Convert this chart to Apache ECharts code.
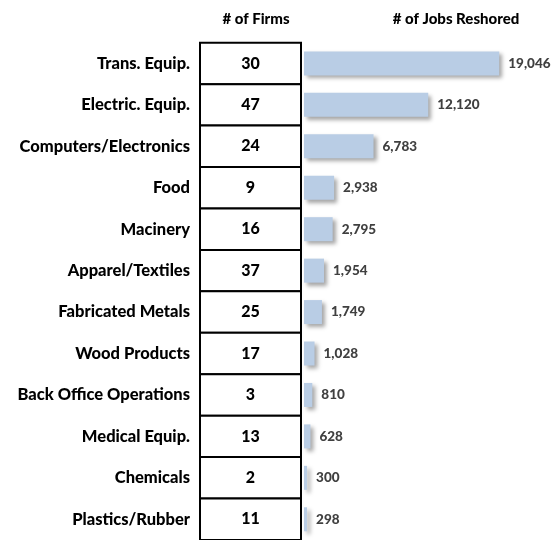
<!DOCTYPE html>
<html>
<head>
<meta charset="utf-8">
<script src="https://cdn.jsdelivr.net/npm/echarts@6/dist/echarts.min.js"></script>
<style>
  html, body { margin: 0; padding: 0; background: #fff; }
  #chart { width: 556px; height: 540px; }
</style>
</head>
<body>
<div id="chart"></div>
<script>
// Reshoring by industry: firm counts and jobs brought back
const industries = [
  'Trans. Equip.', 'Electric. Equip.', 'Computers/Electronics', 'Food',
  'Macinery', 'Apparel/Textiles', 'Fabricated Metals', 'Wood Products',
  'Back Office Operations', 'Medical Equip.', 'Chemicals', 'Plastics/Rubber'
];
const firms = [30, 47, 24, 9, 16, 37, 25, 17, 3, 13, 2, 11];
const jobs = [19046, 12120, 6783, 2938, 2795, 1954, 1749, 1028, 810, 628, 300, 298];

const FONT = 'Lato, "Open Sans", sans-serif';
const TOP = 42.7, HEIGHT = 498;

const chart = echarts.init(document.getElementById('chart'), null, { renderer: 'canvas' });

chart.setOption({
  animation: false,
  backgroundColor: '#ffffff',
  title: [
    { text: '# of Firms', left: 251, top: 7, textAlign: 'center',
      textStyle: { fontFamily: FONT, fontWeight: 900, fontSize: 15, color: '#000' } },
    { text: '# of Jobs Reshored', left: 451, top: 7, textAlign: 'center',
      textStyle: { fontFamily: FONT, fontWeight: 900, fontSize: 15, color: '#000' } }
  ],
  grid: [
    { left: 200, top: TOP, width: 101, height: HEIGHT },
    { left: 304, top: TOP, width: 246, height: HEIGHT }
  ],
  xAxis: [
    { gridIndex: 0, type: 'value', min: 0, max: 1, show: false },
    { gridIndex: 1, type: 'value', min: 0, max: 24000, show: false }
  ],
  yAxis: [
    { gridIndex: 0, type: 'category', data: industries, inverse: true,
      axisLine: { show: false }, axisTick: { show: false }, splitLine: { show: false },
      axisLabel: { margin: 10, fontFamily: FONT, fontWeight: 900, fontSize: 16.5, color: '#000' } },
    { gridIndex: 1, type: 'category', data: industries, inverse: true, show: false }
  ],
  series: [
    {
      // table column: one bordered cell per industry holding the firm count
      type: 'custom',
      xAxisIndex: 0, yAxisIndex: 0,
      data: industries.map((name, i) => [name, firms[i]]),
      encode: { y: 0 },
      renderItem: function (params, api) {
        const idx = api.value(0);
        const left = api.coord([0, idx]);
        const right = api.coord([1, idx]);
        const h = api.size([0, 1])[1];
        return {
          type: 'group',
          children: [
            { type: 'rect',
              shape: { x: left[0], y: left[1] - h / 2, width: right[0] - left[0], height: h },
              style: { fill: '#fff', stroke: '#000', lineWidth: 2 } },
            { type: 'text',
              style: { text: String(api.value(1)), x: (left[0] + right[0]) / 2, y: left[1],
                align: 'center', verticalAlign: 'middle',
                font: '900 16px ' + FONT, fill: '#000' } }
          ]
        };
      }
    },
    {
      type: 'bar',
      xAxisIndex: 1, yAxisIndex: 1,
      data: jobs,
      barWidth: 24,
      itemStyle: {
        color: '#b9cde5',
        shadowColor: 'rgba(0,0,0,0.35)',
        shadowBlur: 4,
        shadowOffsetX: 3,
        shadowOffsetY: 3
      },
      label: {
        show: true, position: 'right', distance: 9,
        fontFamily: FONT, fontWeight: 900, fontSize: 13.5, color: '#404040',
        formatter: p => p.value.toLocaleString('en-US')
      }
    }
  ]
});
</script>
</body>
</html>
